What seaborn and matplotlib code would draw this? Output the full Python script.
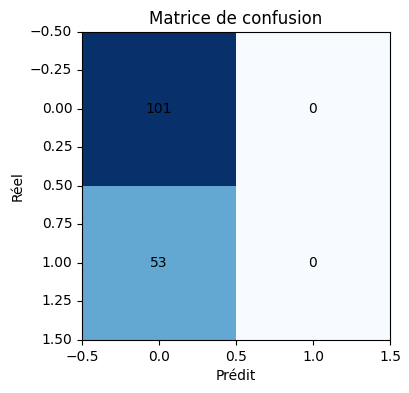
"Matrice de confusion"

import numpy as np
import matplotlib
matplotlib.use('Agg')
import matplotlib.pyplot as plt
import seaborn as sns

# Confusion matrix values (rows: reel, cols: predit)
row_0 = [101, 0]
row_1 = [53, 0]
cm = np.array([row_0, row_1])

x_tick_vals = [-0.5, 0.0, 0.5, 1.0, 1.5]
y_tick_vals = [-0.5, -0.25, 0.0, 0.25, 0.5, 0.75, 1.0, 1.25, 1.5]


def fmt(v, nd):
    return f'{v:.{nd}f}'.replace('-', '\u2212')


fig = plt.figure(figsize=(4.1, 3.93), dpi=100)
ax = fig.add_axes([0.2, 0.1349, 0.7512, 0.7837])

sns.heatmap(cm, cmap='Blues', cbar=False, annot=True, fmt='d',
            annot_kws={'color': 'black', 'fontsize': 10}, square=True, ax=ax)

# imshow-like axes: cell centers at integers
ax.set_xticks([v + 0.5 for v in x_tick_vals])
ax.set_xticklabels([fmt(v, 1) for v in x_tick_vals], rotation=0)
ax.set_yticks([v + 0.5 for v in y_tick_vals])
ax.set_yticklabels([fmt(v, 2) for v in y_tick_vals], rotation=0)
ax.tick_params(length=3.5, width=0.8)
for s in ax.spines.values():
    s.set_visible(True)
    s.set_linewidth(0.8)

ax.set_title('Matrice de confusion', fontsize=12)
ax.set_xlabel('Prédit')
ax.set_ylabel('Réel')

plt.savefig('out.png', dpi=100)
